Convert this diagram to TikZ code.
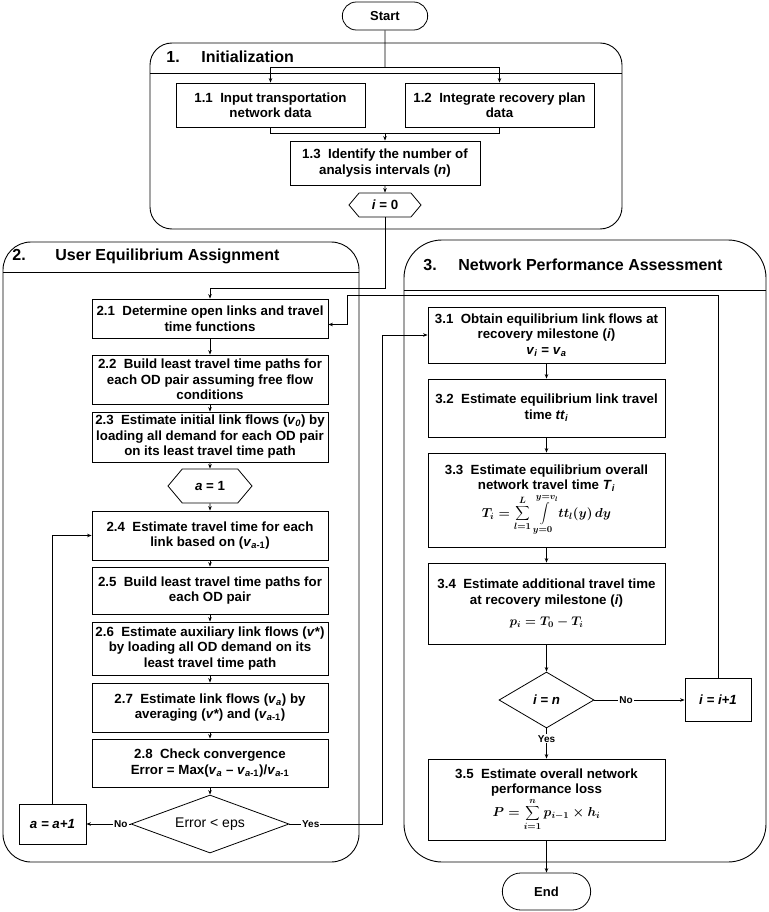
\documentclass[tikz,border=0pt]{standalone}
\usepackage{fix-cm}
\usepackage[no-math]{fontspec}
\setmainfont{Liberation Sans}
\usetikzlibrary{arrows.meta,shapes.geometric,shapes.misc,shapes.symbols}

\newcommand{\sv}[2]{\textit{#1}\textsubscript{\textit{#2}}}
\newcommand{\bxfont}{\fontsize{13.3}{15.5}\selectfont\bfseries}

\tikzset{
  box/.style={draw, line width=0.8pt, align=center, inner sep=1pt, font=\bxfont},
  ibox/.style={box, minimum width=189pt},
  ubox/.style={box, minimum width=236pt},
  nbox/.style={box, minimum width=237pt},
  term/.style={draw, rounded rectangle, line width=0.8pt, font=\fontsize{13}{15}\selectfont\bfseries},
  hexa/.style={draw, signal, signal to=east and west, signal pointer angle=100, line width=0.8pt, inner sep=0pt, font=\bxfont},
  decide/.style={draw, diamond, line width=0.8pt, inner sep=0pt},
  frame/.style={line width=0.9pt, rounded corners=#1},
  ttl/.style={anchor=west, inner sep=0pt, font=\fontsize{16}{18}\selectfont\bfseries},
  lbl/.style={fill=white, inner sep=1pt, font=\fontsize{10}{11}\selectfont\bfseries},
  arr/.style={line width=0.8pt, -{Stealth[length=4.5pt,width=3.5pt]}}
}

\begin{document}
\begin{tikzpicture}[x=1pt, y=-1pt, line width=0.8pt]
  \useasboundingbox (0,0) rectangle (768,912);
  % sections
  \draw[frame=22pt] (150,43) rectangle (622,229);
  \draw (150,73) -- (622,73);
  \node[ttl] (T1) at (166,57) {1.\hspace{21.7pt}Initialization};
  \draw[frame=28pt] (3,242) rectangle (359,862);
  \draw (3,272) -- (359,272);
  \node[ttl] (T2) at (12,256) {2.\hspace{29.7pt}User Equilibrium Assignment};
  \draw[frame=38pt] (404,240) rectangle (766,862);
  \draw (404,290) -- (766,290);
  \node[ttl] (T3) at (423,265) {3.\hspace{21.7pt}Network Performance Assessment};

  % 1. initialization
  \node[term, minimum width=92pt, minimum height=28pt] (Start) at (385,16) {Start};
  \node[ibox, minimum height=44pt] (B11) at (270.5,105) {1.1~~Input transportation\\network data};
  \node[ibox, minimum height=44pt] (B12) at (499.5,105) {1.2~~Integrate recovery plan\\data};
  \node[box, minimum width=190pt, minimum height=44pt] (B13) at (385,163) {1.3~~Identify the number of\\analysis intervals (\textit{n})};
  \node[hexa, minimum width=72pt, minimum height=24pt] (I0) at (385,205) {\textit{i} = 0};
  \coordinate (F1) at (385,67);
  \coordinate (J1) at (385,133);
  \coordinate (T0) at (385,288);
  \draw (Start) -- (F1);
  \draw[arr] (F1) -| (B11);
  \draw[arr] (F1) -| (B12);
  \draw (B11) |- (J1);
  \draw (B12) |- (J1);
  \draw[arr] (J1) -- (B13);
  \draw[arr] (B13) -- (I0);

  % 2. user equilibrium
  \node[ubox, minimum height=39pt] (B21) at (210,318.5) {2.1~~Determine open links and travel\\time functions};
  \node[ubox, minimum height=49pt] (B22) at (210,379.5) {2.2~~Build least travel time paths for\\each OD pair assuming free flow\\conditions};
  \node[ubox, minimum height=50pt] (B23) at (210,437) {2.3~~Estimate initial link flows (\sv{v}{0}) by\\loading all demand for each OD pair\\on its least travel time path};
  \node[hexa, minimum width=84pt, minimum height=34pt] (A1) at (210,486) {\textit{a} = 1};
  \node[ubox, minimum height=49pt] (B24) at (210,535.5) {2.4~~Estimate travel time for each\\link based on (\textit{v}\textsubscript{\textit{a}-1})};
  \node[ubox, minimum height=47pt] (B25) at (210,590.5) {2.5~~Build least travel time paths for\\each OD pair};
  \node[ubox, minimum height=53pt] (B26) at (210,648.5) {2.6~~Estimate auxiliary link flows (\textit{v}*)\\by loading all OD demand on its\\least travel time path};
  \node[ubox, minimum height=49pt] (B27) at (210,707.5) {2.7~~Estimate link flows (\sv{v}{a}) by\\averaging (\textit{v}*) and (\textit{v}\textsubscript{\textit{a}-1})};
  \node[ubox, minimum height=48pt] (B28) at (210,763) {2.8~~Check convergence\\Error = Max(\sv{v}{a} -- \textit{v}\textsubscript{\textit{a}-1})/\textit{v}\textsubscript{\textit{a}-1}};
  \node[decide, aspect=2.7, minimum width=158pt, minimum height=58pt, font=\fontsize{14}{16}\selectfont] (Err) at (210,824) {Error < eps};
  \node[box, minimum width=67pt, minimum height=40pt] (Inc) at (52.5,824) {\textit{a = a+1}};
  \draw[arr] (I0) -- (T0) -| (B21);
  \foreach \a/\b in {B21/B22, B22/B23, B23/A1, A1/B24, B24/B25, B25/B26, B26/B27, B27/B28, B28/Err}
    \draw[arr] (\a) -- (\b);
  \draw[arr] (Err) -- node[lbl, pos=.22] {No} (Inc);
  \draw[arr] (Inc) |- (B24);

  % 3. network performance
  \node[nbox, minimum height=56pt] (B31) at (546.5,335) {3.1~~Obtain equilibrium link flows at\\recovery milestone (\textit{i})\\\sv{v}{i} = \sv{v}{a}};
  \node[nbox, minimum height=58pt] (B32) at (546.5,408) {3.2~~Estimate equilibrium link travel\\time \sv{tt}{i}};
  \node[nbox, minimum height=94pt] (B33) at (546.5,500) {3.3~~Estimate equilibrium overall\\network travel time \sv{T}{i}\\[2pt]
    {\fontsize{13}{15}\selectfont\boldmath$\displaystyle T_i=\sum_{l=1}^{L}\int\limits_{y=0}^{y=v_l} tt_l(y)\,dy$}};
  \node[nbox, minimum height=81pt] (B34) at (546.5,603.5) {3.4~~Estimate additional travel time\\at recovery milestone (\textit{i})\\[6pt]
    {\fontsize{12.5}{14}\selectfont\boldmath$p_i=T_0-T_i$}};
  \node[decide, aspect=1.7, minimum width=95pt, minimum height=56pt, font=\bxfont] (Dec) at (546.5,700) {\textit{i = n}};
  \node[box, minimum width=66pt, minimum height=43pt] (Next) at (718,700) {\textit{i = i+1}};
  \node[nbox, minimum height=81pt] (B35) at (546.5,799.5) {3.5~~Estimate overall network\\performance loss\\[1pt]
    {\fontsize{13}{15}\selectfont\boldmath$\displaystyle P=\sum_{i=1}^{n}p_{i-1}\times h_i$}};
  \node[term, minimum width=95pt, minimum height=37pt] (End) at (546.5,891.5) {End};
  \coordinate (Y1) at (382,824);
  \draw[arr] (Err) -- node[lbl, pos=.23] {Yes} (Y1) |- (B31);
  \foreach \a/\b in {B31/B32, B32/B33, B33/B34, B34/Dec, B35/End}
    \draw[arr] (\a) -- (\b);
  \draw[arr] (Dec) -- node[lbl, pos=.35] {Yes} (B35);
  \draw[arr] (Dec) -- node[lbl, pos=.35] {No} (Next);
  \coordinate (R2) at (347,295);
  \draw[arr] (Next) |- (R2) |- ([yshift=-6pt]B21.east); % back to 2.1
\end{tikzpicture}
\end{document}
